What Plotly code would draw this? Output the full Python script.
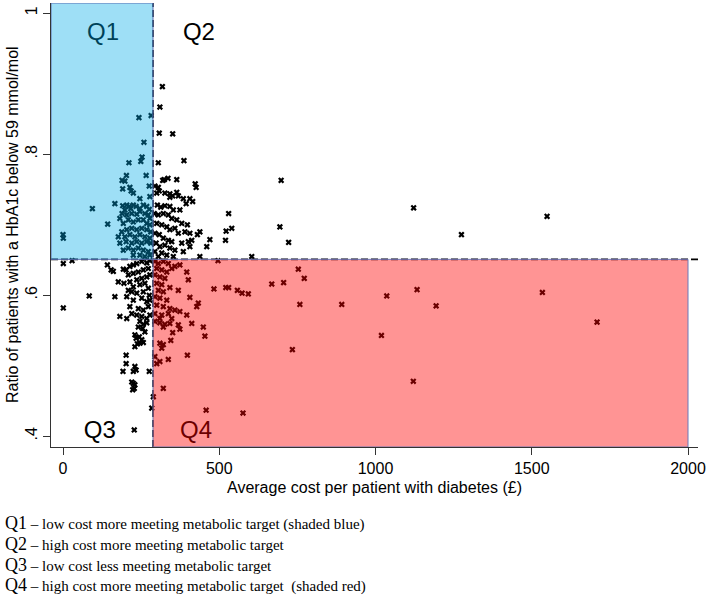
import plotly.graph_objects as go

# ---- data: (average cost per patient £, ratio meeting HbA1c target) ----
# Q1: low cost, more meeting target
q1_cost = [243, 282, 259, 253, 249, 211, 203, 266, 189, 198, 191, 214, 218, 225, 276, 246, 278,
           94, 0, 1, 143, 166,
           191, 204, 212, 217, 198, 225, 234, 246, 257, 268, 276,
           182, 189, 204, 220, 236, 246, 262, 273, 278,
           193, 209, 225, 241, 257, 268, 278,
           188, 204, 220, 236, 252, 268, 281,
           177, 198, 214, 230, 246, 262, 278,
           182, 202, 220, 236, 252, 268, 281,
           193, 209, 225, 241, 257, 273, 278, 246, 262, 225]
q1_ratio = [0.852, 0.855, 0.817, 0.796, 0.790, 0.788, 0.770, 0.770, 0.763, 0.762, 0.751, 0.753, 0.748, 0.745, 0.755, 0.737, 0.740,
            0.723, 0.686, 0.681, 0.701, 0.730,
            0.727, 0.728, 0.726, 0.723, 0.721, 0.728, 0.726, 0.723, 0.728, 0.726, 0.722,
            0.709, 0.716, 0.714, 0.716, 0.715, 0.719, 0.716, 0.714, 0.709,
            0.702, 0.707, 0.704, 0.707, 0.707, 0.702, 0.700,
            0.690, 0.693, 0.695, 0.693, 0.695, 0.693, 0.690,
            0.683, 0.683, 0.686, 0.683, 0.686, 0.683, 0.681,
            0.674, 0.676, 0.674, 0.676, 0.674, 0.676, 0.674,
            0.664, 0.667, 0.664, 0.667, 0.664, 0.662, 0.657, 0.657, 0.655, 0.657]

# Q2: high cost, more meeting target
q2_cost = [318, 310, 308, 351, 305, 387, 319, 324, 336, 364, 423, 426, 294, 305, 308, 300, 326, 342, 351, 364, 369, 342, 385, 406,
           530, 698, 694, 722, 520, 1122, 1275, 1549, 604,
           302, 313, 326, 342, 353, 374, 394, 415,
           292, 305, 321, 337, 348, 364, 380, 398,
           300, 316, 332, 342, 358, 369, 390, 406, 438, 430, 522, 540,
           294, 308, 321, 337, 348, 380, 401, 412, 470, 460,
           298, 310, 326, 342, 358, 385, 406,
           294, 316, 332, 438, 305, 353]
q2_ratio = [0.896, 0.867, 0.830, 0.829, 0.788, 0.791, 0.763, 0.764, 0.766, 0.764, 0.758, 0.753, 0.755, 0.753, 0.748, 0.745, 0.745, 0.744, 0.741, 0.746, 0.741, 0.739, 0.737, 0.737,
            0.716, 0.763, 0.697, 0.675, 0.678, 0.724, 0.686, 0.712, 0.655,
            0.728, 0.725, 0.727, 0.726, 0.721, 0.721, 0.730, 0.733,
            0.716, 0.714, 0.716, 0.714, 0.709, 0.707, 0.702, 0.700,
            0.702, 0.700, 0.697, 0.693, 0.695, 0.688, 0.690, 0.688, 0.690, 0.686, 0.691, 0.695,
            0.688, 0.686, 0.681, 0.678, 0.676, 0.674, 0.676, 0.678, 0.679, 0.669,
            0.674, 0.669, 0.671, 0.667, 0.664, 0.662, 0.669,
            0.662, 0.660, 0.657, 0.655, 0.655, 0.655]

# Q3: low cost, less meeting target
q3_cost = [1, 29, 84, 1, 182,
           142, 154, 161, 193, 202, 214, 225, 236, 252, 268, 278,
           209, 225, 241, 257, 273, 236, 252, 268, 278,
           177, 195, 214, 225, 246, 262, 273, 209, 220, 236, 257, 276,
           166, 204, 225, 252, 268, 278, 214, 241, 257, 273,
           220, 236, 252, 268, 204, 278,
           246, 257, 268, 241, 255, 262, 230, 244, 234, 252, 238, 246, 257, 230,
           202, 202, 192, 230, 225, 234, 276, 220, 225, 230, 223, 228, 228]
q3_ratio = [0.645, 0.649, 0.599, 0.582, 0.570,
            0.643, 0.636, 0.634, 0.637, 0.636, 0.641, 0.643, 0.645, 0.648, 0.646, 0.649,
            0.629, 0.631, 0.633, 0.636, 0.638, 0.622, 0.624, 0.626, 0.629,
            0.619, 0.617, 0.619, 0.612, 0.615, 0.617, 0.610, 0.607, 0.605, 0.603, 0.605, 0.600,
            0.598, 0.598, 0.593, 0.596, 0.591, 0.593, 0.584, 0.581, 0.579, 0.584,
            0.574, 0.572, 0.570, 0.567, 0.567, 0.572,
            0.563, 0.559, 0.561, 0.555, 0.553, 0.548, 0.544, 0.541, 0.539, 0.537, 0.531, 0.532, 0.533, 0.527,
            0.515, 0.503, 0.492, 0.499, 0.492, 0.494, 0.492, 0.477, 0.475, 0.473, 0.466, 0.468, 0.409]

# Q4: high cost, less meeting target
q4_cost = [753, 772, 706, 668, 758, 734, 892, 593, 573, 558, 530, 521, 483, 458, 576, 496,
           1036, 1133, 1194, 1019, 1121, 1534, 1709,
           294, 305, 321, 337, 374, 396, 300, 316, 332, 348, 358,
           294, 310, 326, 401, 300, 316, 342, 305, 321, 369,
           294, 310, 332, 406, 433, 300, 321, 342, 358, 294, 316, 337, 374, 396, 428, 310, 348,
           294, 310, 326, 321, 342, 369, 374, 412, 449, 454, 351, 310, 321, 345, 316,
           294, 310, 300, 337, 398, 321, 289, 284]
q4_ratio = [0.637, 0.624, 0.618, 0.616, 0.587, 0.523, 0.587, 0.602, 0.603, 0.607, 0.611, 0.611, 0.609, 0.437, 0.433, 0.649,
            0.599, 0.608, 0.585, 0.543, 0.478, 0.604, 0.562,
            0.648, 0.645, 0.648, 0.645, 0.643, 0.633, 0.638, 0.636, 0.633, 0.638, 0.641,
            0.629, 0.626, 0.624, 0.622, 0.617, 0.615, 0.611, 0.607, 0.605, 0.607,
            0.598, 0.596, 0.593, 0.597, 0.589, 0.586, 0.584, 0.581, 0.579, 0.574, 0.572, 0.574, 0.577, 0.572, 0.584, 0.567, 0.567,
            0.563, 0.561, 0.559, 0.555, 0.560, 0.558, 0.552, 0.560, 0.555, 0.542, 0.547, 0.532, 0.530, 0.536, 0.525,
            0.513, 0.506, 0.503, 0.509, 0.515, 0.468, 0.456, 0.440]

cost_cut = 288      # dividing line (cost)
ratio_cut = 0.651   # dividing line (ratio)
x_range = [-38.4, 2032]
y_range = [0.3848, 1.0146]

x_ticks = [0, 500, 1000, 1500, 2000]
x_ticktext = ["0", "500", "1000", "1500", "2000"]
y_ticks = [0.4, 0.6, 0.8, 1.0]
y_ticktext = [".4", ".6", ".8", "1"]

quad_labels = ["Q1", "Q2", "Q3", "Q4"]
quad_x = [128, 435, 118, 426]
quad_y = [0.971, 0.971, 0.406, 0.406]

caption = [
    ("Q1", "low cost more meeting metabolic target (shaded blue)"),
    ("Q2", "high cost more meeting metabolic target"),
    ("Q3", "low cost less meeting metabolic target"),
    ("Q4", "high cost more meeting metabolic target\u00a0\u00a0(shaded red)"),
]

SANS = "Liberation Sans, Arial, Helvetica, sans-serif"
SERIF = "Liberation Serif, Times New Roman, serif"

all_cost = q1_cost + q2_cost + q3_cost + q4_cost
all_ratio = q1_ratio + q2_ratio + q3_ratio + q4_ratio

fig = go.Figure()
fig.add_trace(go.Scatter(
    x=all_cost, y=all_ratio, mode="markers",
    marker=dict(symbol="x", size=5.5, color="black", line=dict(width=0)),
    showlegend=False, hoverinfo="x+y",
))
fig.add_trace(go.Scatter(
    x=quad_x, y=quad_y, mode="text", text=quad_labels,
    textfont=dict(family=SANS, size=24, color="black"),
    textposition="middle center", showlegend=False, hoverinfo="skip",
))

shapes = [
    dict(type="line", xref="x", yref="y", x0=cost_cut, x1=cost_cut, y0=y_range[0], y1=y_range[1],
         line=dict(color="black", width=1.6, dash="7px,3px"), layer="above"),
    dict(type="line", xref="x", yref="y", x0=x_range[0], x1=x_range[1], y0=ratio_cut, y1=ratio_cut,
         line=dict(color="black", width=1.6, dash="7px,3px"), layer="above"),
    dict(type="rect", xref="x", yref="y", x0=x_range[0], x1=cost_cut, y0=ratio_cut, y1=y_range[1],
         fillcolor="rgba(0,172,232,0.38)", line=dict(color="#5a6fb2", width=1), layer="above"),
    dict(type="rect", xref="x", yref="y", x0=cost_cut, x1=2000, y0=y_range[0], y1=ratio_cut,
         fillcolor="rgba(255,0,0,0.42)", line=dict(color="#6a78b8", width=1), layer="above"),
]

annotations = [
    dict(text="Average cost per patient with diabetes (£)", xref="paper", yref="paper",
         x=0.5, y=0, yshift=-40, xanchor="center", yanchor="middle", showarrow=False,
         font=dict(family=SANS, size=16, color="black")),
    dict(text="Ratio of patients with a HbA1c below 59 mmol/mol", xref="paper", yref="paper",
         x=0, y=0.5, xshift=-39, xanchor="center", yanchor="middle", textangle=-90, showarrow=False,
         font=dict(family=SANS, size=16, color="black")),
]
cap_y = [523, 544, 565, 585]
for (q, txt), py in zip(caption, cap_y):
    annotations.append(dict(
        text=f"<span style='font-size:18px'>{q}</span> \u2013 {txt}",
        xref="paper", yref="paper", x=0, y=0, xshift=-48, yshift=-(py - 447),
        xanchor="left", yanchor="middle", showarrow=False, align="left",
        font=dict(family=SERIF, size=15, color="black")))

fig.update_layout(
    width=709, height=595,
    margin=dict(l=51, r=11, t=3, b=148, pad=0, autoexpand=False),
    paper_bgcolor="white", plot_bgcolor="white",
    shapes=shapes, annotations=annotations,
    xaxis=dict(range=x_range, tickvals=x_ticks, ticktext=x_ticktext, showgrid=False, zeroline=False,
               automargin=False,
               showline=True, linecolor="#333333", linewidth=1, ticks="outside", ticklen=7,
               tickcolor="#333333", tickfont=dict(family=SANS, size=16, color="black")),
    yaxis=dict(range=y_range, tickvals=y_ticks, ticktext=y_ticktext, showgrid=False, zeroline=False,
               automargin=False,
               showline=True, linecolor="#333333", linewidth=1, ticks="outside", ticklen=7,
               tickcolor="#333333", tickangle=-90, tickfont=dict(family=SANS, size=16, color="black")),
    showlegend=False,
)

fig.write_html("out.html", config={"displayModeBar": False},
               post_script="document.body.style.margin='0px';document.body.style.overflow='hidden';")
